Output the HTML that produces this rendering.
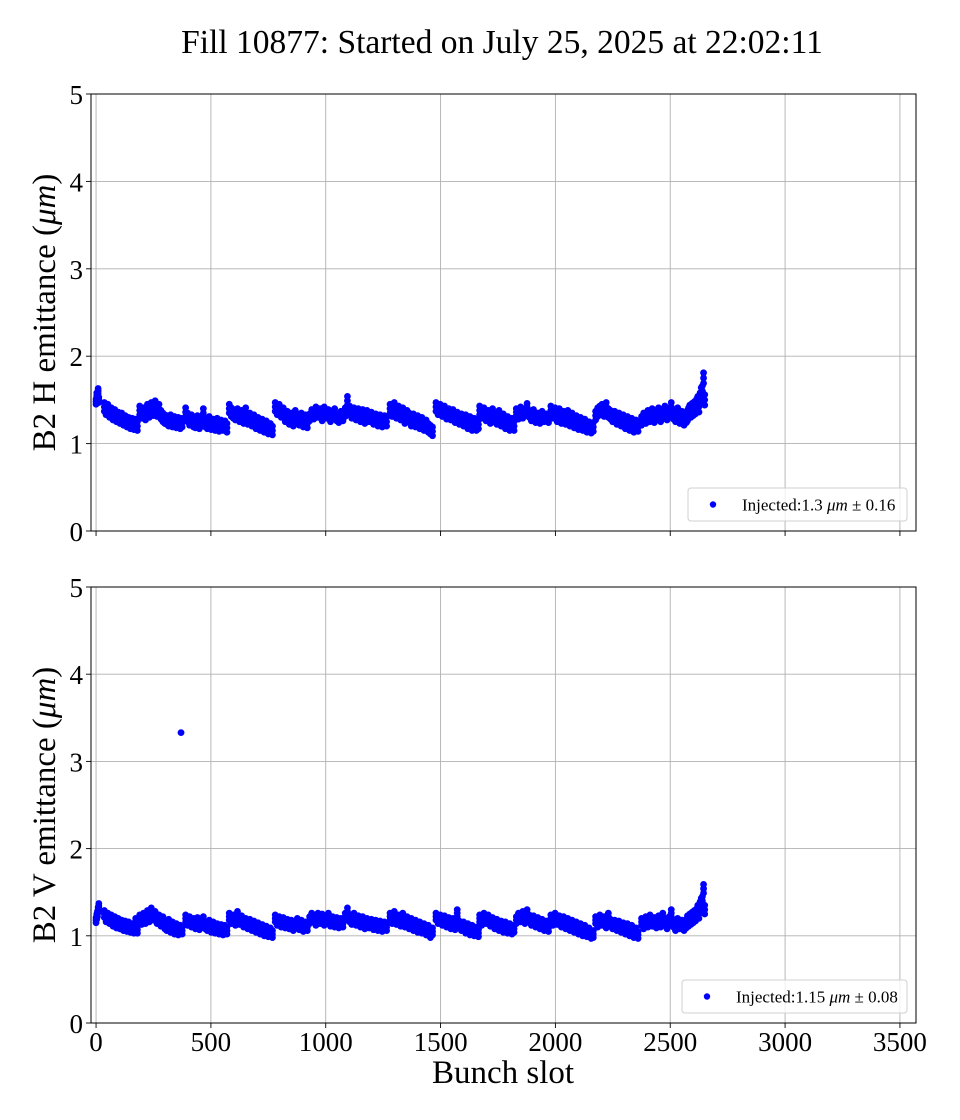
<!DOCTYPE html>
<html><head><meta charset="utf-8">
<style>
html,body{margin:0;padding:0;background:#fff;}
svg{display:block;font-family:"Liberation Serif","DejaVu Serif",serif;}
</style></head>
<body>
<svg id="chart" width="960" height="1120" viewBox="0 0 960 1120">
<text x="502" y="53" font-size="33.5" text-anchor="middle">Fill 10877: Started on July 25, 2025 at 22:02:11</text>
<g id="p1"></g>
<g id="p2"></g>
<text x="503" y="1083" font-size="33" text-anchor="middle">Bunch slot</text>
</svg>
<script>
// ---- data ----
const trainStart = [0, 36, 190, 390, 580, 780, 930, 1085, 1280, 1480, 1670, 1830, 1980, 2175, 2375, 2570];
const trainEnd   = [12, 180, 375, 570, 768, 920, 1075, 1265, 1465, 1665, 1820, 1970, 2165, 2360, 2560, 2650];
const hValues = [
 [1.48,1.55,1.52,1.60,1.50],
 [1.42,1.38,1.40,1.35,1.36,1.32,1.34,1.30,1.31,1.28,1.30,1.26,1.27,1.24,1.25,1.22,1.24,1.21,1.23,1.20],
 [1.38,1.34,1.36,1.32,1.40,1.35,1.42,1.37,1.44,1.36,1.40,1.33,1.30,1.28,1.27,1.25,1.28,1.24,1.26,1.23,1.25,1.22,1.24],
 [1.36,1.30,1.26,1.28,1.24,1.23,1.27,1.22,1.25,1.35,1.24,1.22,1.26,1.21,1.23,1.20,1.24,1.19,1.22,1.20,1.21,1.18],
 [1.40,1.36,1.34,1.32,1.35,1.30,1.33,1.28,1.36,1.27,1.30,1.25,1.28,1.22,1.25,1.20,1.23,1.18,1.21,1.16,1.18,1.15],
 [1.42,1.38,1.40,1.35,1.36,1.30,1.32,1.27,1.30,1.25,1.33,1.28,1.26,1.30,1.24,1.28,1.23],
 [1.30,1.35,1.32,1.38,1.34,1.36,1.30,1.38,1.33,1.35,1.29,1.32,1.36,1.30,1.28,1.33,1.30],
 [1.36,1.49,1.38,1.34,1.36,1.32,1.35,1.30,1.34,1.28,1.33,1.30,1.31,1.27,1.29,1.25,1.28,1.24,1.27,1.25],
 [1.40,1.36,1.42,1.34,1.38,1.32,1.36,1.28,1.33,1.30,1.25,1.29,1.24,1.27,1.22,1.25,1.20,1.22,1.18,1.16,1.14],
 [1.42,1.38,1.40,1.36,1.38,1.33,1.35,1.32,1.34,1.29,1.31,1.27,1.29,1.25,1.28,1.22,1.26,1.20,1.24,1.20,1.22],
 [1.38,1.34,1.36,1.31,1.33,1.28,1.35,1.30,1.27,1.33,1.25,1.29,1.22,1.26,1.20,1.24,1.20],
 [1.36,1.32,1.38,1.33,1.36,1.42,1.34,1.30,1.35,1.28,1.31,1.27,1.33,1.29,1.30,1.28],
 [1.38,1.34,1.36,1.30,1.35,1.28,1.32,1.27,1.33,1.25,1.30,1.23,1.27,1.21,1.25,1.20,1.23,1.18,1.20,1.17,1.19],
 [1.32,1.36,1.38,1.40,1.36,1.42,1.35,1.33,1.30,1.32,1.27,1.30,1.25,1.28,1.22,1.26,1.20,1.24,1.18,1.22,1.19],
 [1.26,1.30,1.28,1.33,1.30,1.35,1.29,1.33,1.36,1.30,1.34,1.38,1.32,1.36,1.42,1.33,1.30,1.36,1.28,1.32,1.26],
 [1.30,1.32,1.35,1.38,1.36,1.40,1.38,1.42,1.40,1.45,1.48,1.42,1.52,1.58,1.60,1.75,1.50]
];
const hSpread = [0.03,0.05,0.05,0.05,0.05,0.05,0.04,0.05,0.05,0.05,0.05,0.04,0.05,0.05,0.05,0.06];
const vValues = [
 [1.18,1.22,1.25,1.30,1.34],
 [1.25,1.20,1.22,1.18,1.20,1.15,1.18,1.13,1.16,1.12,1.14,1.10,1.13,1.09,1.12,1.08,1.10,1.07,1.16,1.07],
 [1.20,1.17,1.22,1.18,1.25,1.20,1.28,1.22,1.24,1.18,1.20,1.15,1.18,1.12,1.10,1.15,1.08,1.12,1.06,1.10,1.05,1.08,1.06],
 [1.20,1.16,1.18,1.14,1.16,1.12,1.17,1.11,1.15,1.18,1.12,1.10,1.14,1.08,1.12,1.07,1.10,1.06,1.09,1.05,1.08,1.06],
 [1.22,1.18,1.20,1.16,1.24,1.17,1.19,1.14,1.16,1.12,1.15,1.10,1.13,1.08,1.11,1.06,1.09,1.04,1.07,1.03,1.05,1.02],
 [1.20,1.16,1.18,1.14,1.17,1.13,1.15,1.12,1.14,1.10,1.13,1.16,1.11,1.14,1.09,1.12,1.10],
 [1.18,1.22,1.20,1.16,1.22,1.18,1.21,1.16,1.19,1.22,1.15,1.18,1.14,1.17,1.13,1.16,1.14],
 [1.22,1.28,1.20,1.17,1.22,1.16,1.19,1.14,1.18,1.12,1.16,1.13,1.15,1.11,1.14,1.10,1.13,1.09,1.12,1.10],
 [1.22,1.18,1.24,1.17,1.20,1.15,1.22,1.14,1.18,1.12,1.16,1.10,1.14,1.08,1.12,1.07,1.10,1.05,1.08,1.02,1.05],
 [1.22,1.18,1.20,1.16,1.19,1.14,1.17,1.12,1.16,1.11,1.26,1.13,1.10,1.12,1.07,1.10,1.05,1.08,1.04,1.06,1.03],
 [1.20,1.16,1.22,1.18,1.20,1.15,1.17,1.12,1.15,1.10,1.13,1.08,1.12,1.07,1.10,1.06,1.08],
 [1.18,1.22,1.20,1.24,1.18,1.26,1.20,1.16,1.19,1.14,1.17,1.12,1.15,1.10,1.13,1.09],
 [1.20,1.16,1.22,1.17,1.19,1.14,1.18,1.12,1.16,1.10,1.14,1.08,1.12,1.06,1.10,1.04,1.08,1.03,1.05,1.01,1.02],
 [1.18,1.14,1.20,1.16,1.18,1.13,1.22,1.15,1.12,1.14,1.10,1.13,1.08,1.11,1.06,1.10,1.04,1.08,1.02,1.05,1.01],
 [1.16,1.12,1.18,1.14,1.20,1.15,1.17,1.13,1.19,1.14,1.22,1.16,1.12,1.18,1.26,1.14,1.10,1.16,1.12,1.14,1.10],
 [1.14,1.18,1.16,1.20,1.18,1.22,1.20,1.24,1.22,1.26,1.30,1.25,1.34,1.38,1.40,1.54,1.30]
];
const vSpread = [0.03,0.04,0.04,0.04,0.04,0.04,0.04,0.04,0.04,0.04,0.04,0.04,0.04,0.04,0.04,0.05];
const vOutlierSlot = [370];
const vOutlierValue = [3.33];
const xTicks = [0,500,1000,1500,2000,2500,3000,3500];
const yTicks = [0,1,2,3,4,5];
const legendH = "Injected:1.3 ";
const legendHErr = "0.16";
const legendV = "Injected:1.15 ";
const legendVErr = "0.08";

// ---- drawing ----
const NS = "http://www.w3.org/2000/svg";
const L = 91, R = 916;
const xMin = -22, xMax = 3570;
function xs(v){ return L + (v - xMin) / (xMax - xMin) * (R - L); }
function mk(tag, attrs, parent){ const e = document.createElementNS(NS, tag); for (const k in attrs) e.setAttribute(k, attrs[k]); parent.appendChild(e); return e; }

function panel(g, top, bottom, vals, spread, ylabel, legText, legErr, legX, outS, outV, showXLabels){
  const ys = v => bottom - v / 5 * (bottom - top);
  xTicks.forEach(t => {
    const x = xs(t);
    const gl = mk("line", {x1:x, x2:x, y1:top, y2:bottom, stroke:"#b0b0b0", "stroke-width":0.9}, g);
    
    
    const tk = mk("line", {x1:x, x2:x, y1:bottom, y2:bottom+5, stroke:"#000", "stroke-width":0.9}, g);
    
    
    if (showXLabels) {
      const tl = mk("text", {x:x, y:bottom+28, "font-size":27, "text-anchor":"middle"}, g);
      tl.textContent = t;
      
      
    }
  });
  yTicks.forEach(t => {
    const y = ys(t);
    const gl = mk("line", {x1:L, x2:R, y1:y, y2:y, stroke:"#b0b0b0", "stroke-width":0.9}, g);
    
    
    const tk = mk("line", {x1:L-5, x2:L, y1:y, y2:y, stroke:"#000", "stroke-width":0.9}, g);
    
    
    const tl = mk("text", {x:L-8, y:y+10, "font-size":27, "text-anchor":"end"}, g);
    tl.textContent = t;
    
    
  });
  vals.forEach((arr, i) => {
    const s0 = trainStart[i], s1 = trainEnd[i];
    const sp = spread[i];
    arr.forEach((v, j) => {
      const s = arr.length > 1 ? s0 + (s1 - s0) * j / (arr.length - 1) : s0;
      const c = mk("circle", {cx:xs(s), cy:ys(v), r:3.4, fill:"#0000ff"}, g);
      
      
      [sp, -sp].forEach(d => {
        const c2 = mk("circle", {cx:xs(s), cy:ys(v + d), r:3.4, fill:"#0000ff"}, g);
        
        
      });
    });
  });
  outS.forEach((s, i) => {
    const c = mk("circle", {cx:xs(s), cy:ys(outV[i]), r:3.4, fill:"#0000ff"}, g);
    
    
  });
  const fr = mk("rect", {x:L, y:top, width:R-L, height:bottom-top, fill:"none", stroke:"#000", "stroke-width":1}, g);
  
  
  const yl = mk("text", {x:0, y:0, "font-size":33, "text-anchor":"middle", transform:`translate(55 ${(top+bottom)/2}) rotate(-90)`}, g);
  yl.innerHTML = ylabel + ' (<tspan font-style="italic">μm</tspan>)';
  
  
  const lg = mk("g", {}, g);
  
  
  const lw = 907 - legX;
  mk("rect", {x:legX, y:bottom-43, width:lw, height:33, rx:3, fill:"#fff", "fill-opacity":0.8, stroke:"#d0d0d0"}, lg);
  const ld = mk("circle", {cx:legX+25, cy:bottom-26.5, r:3.2, fill:"#0000ff"}, lg);
  
  
  const lt = mk("text", {x:legX+54, y:bottom-20.5, "font-size":17}, lg);
  lt.innerHTML = legText + '<tspan font-style="italic">μm</tspan> ± ' + legErr;
  
  
}
panel(document.getElementById('p1'), 94, 531, hValues, hSpread, "B2 H emittance", legendH, legendHErr, 688, [], [], false);
panel(document.getElementById('p2'), 587, 1023, vValues, vSpread, "B2 V emittance", legendV, legendVErr, 682, vOutlierSlot, vOutlierValue, true);
</script>
</body></html>
